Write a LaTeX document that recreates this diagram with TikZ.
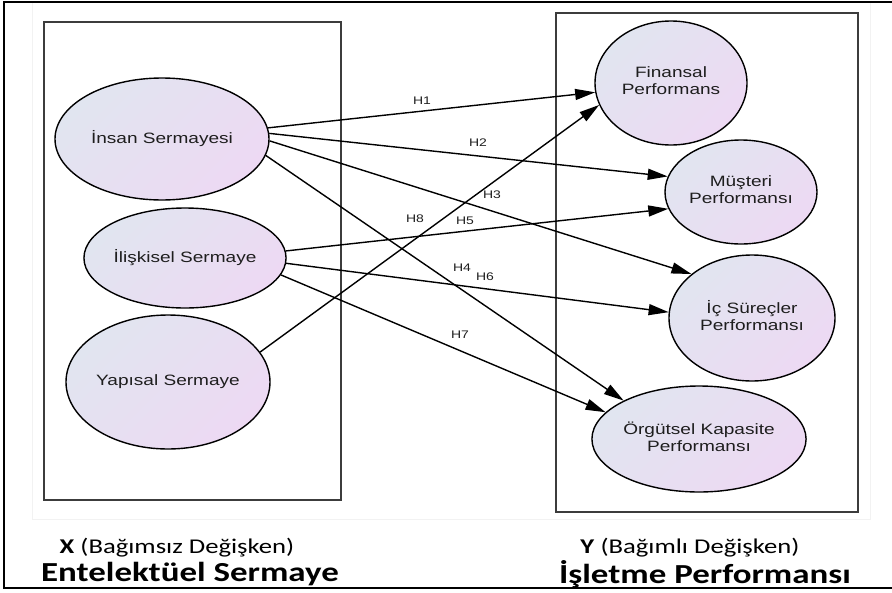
\documentclass[tikz,border=0pt]{standalone}
\usepackage{fontspec}
\usepackage{graphicx}
\setmainfont{Liberation Sans}
\newfontfamily\capfont{Carlito}
\usetikzlibrary{arrows.meta,shapes.geometric}

\definecolor{fillA}{RGB}{225,229,240}
\definecolor{fillB}{RGB}{237,217,243}
\definecolor{txt}{RGB}{30,30,30}
\definecolor{boxline}{RGB}{60,60,60}

% horizontal stretch applied to all lettering
\newcommand{\wide}[1]{\scalebox{1.27}[1]{#1}}
\newcommand{\twoline}[2]{\wide{\begin{tabular}{@{}c@{}}#1\\#2\end{tabular}}}

\begin{document}
\begin{tikzpicture}[x=1pt,y=-1pt,
  latent/.style={ellipse, draw=black, line width=1.4pt, inner sep=0pt,
    top color=fillA, bottom color=fillB, shading angle=45,
    text=txt, font=\fontsize{15}{17}\selectfont},
  link/.style={line width=1.4pt, -{Triangle[length=20pt,width=11pt]}},
  hyp/.style={font=\fontsize{11}{13}\selectfont, text=txt, inner sep=0pt},
  group/.style={draw=boxline, line width=1.8pt},
  caption/.style={inner sep=0pt, text=black}
]
\useasboundingbox (0,0) rectangle (892,592);

% outer frame and faint inner page edge
\draw[line width=2pt] (4,2) rectangle (895,588);
\draw[gray!10, line width=0.8pt] (32,3) -- (32,519) -- (870,519) -- (870,3);

% group boxes
\draw[group] (44,22) rectangle (341,500);
\draw[group] (556,13) rectangle (858,512);

% independent constructs
\node[latent, minimum width=214pt, minimum height=122pt] (ins) at (162,139) {\wide{İnsan Sermayesi}};
\node[latent, minimum width=190pt, minimum height=100pt] (il) at (185,258) {\wide{İlişkisel Sermaye}};
\node[latent, minimum width=204pt, minimum height=134pt] (yap) at (168,382) {\wide{Yapısal Sermaye}};

% dependent constructs
\node[latent, minimum width=152pt, minimum height=124pt] (fin) at (671,83) {\twoline{Finansal}{Performans}};
\node[latent, minimum width=152pt, minimum height=104pt] (mus) at (741,192) {\twoline{Müşteri}{Performansı}};
\node[latent, minimum width=166pt, minimum height=126pt] (ic) at (752,318) {\twoline{İç Süreçler}{Performansı}};
\node[latent, minimum width=180pt, minimum height=106pt] (org) at (699,439) {\twoline{Örgütsel Kapasite}{Performansı}};

% hypothesised paths
\draw[link] (ins.6) -- (fin.187);
\draw[link] (ins.3) -- (mus.168);
\draw[link] (ins.-1) -- (ic.144);
\draw[link] (ins.-9) -- (org.153);
\draw[link] (il.4) -- (mus.193);
\draw[link] (il.-3) -- (ic.176);
\draw[link] (il.-10) -- (org.164);
\draw[link] (yap.18) -- (fin.197);

% path labels
\node[hyp] (h1) at (422,101) {\wide{H1}};
\node[hyp] (h2) at (478,143) {\wide{H2}};
\node[hyp] (h3) at (492,195) {\wide{H3}};
\node[hyp] (h8) at (415,219) {\wide{H8}};
\node[hyp] (h5) at (465,221) {\wide{H5}};
\node[hyp] (h4) at (462,268) {\wide{H4}};
\node[hyp] (h6) at (485,277) {\wide{H6}};
\node[hyp] (h7) at (460,335) {\wide{H7}};

% captions
\node[caption, font=\capfont\fontsize{21}{24}\selectfont] (xsub) at (177,548) {\wide{\textbf{X} (Bağımsız Değişken)}};
\node[caption, font=\capfont\bfseries\fontsize{27.5}{30}\selectfont] (xtitle) at (190,574) {\wide{Entelektüel Sermaye}};
\node[caption, font=\capfont\fontsize{21}{24}\selectfont] (ysub) at (690,548) {\wide{\textbf{Y} (Bağımlı Değişken)}};
\node[caption, font=\capfont\bfseries\fontsize{27.5}{30}\selectfont] (ytitle) at (705,574) {\wide{İşletme Performansı}};
\end{tikzpicture}
\end{document}
